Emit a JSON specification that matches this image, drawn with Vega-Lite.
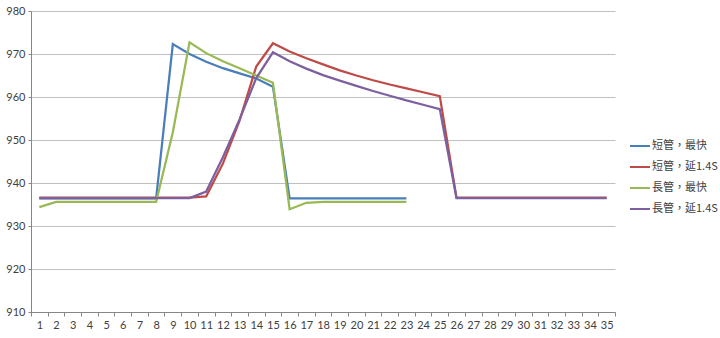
{
  "$schema": "https://vega.github.io/schema/vega-lite/v6.json",
  "autosize": {"type": "none"},
  "padding": {"left": 31, "top": 11, "right": 105, "bottom": 26},
  "width": 584,
  "height": 301,
  "background": "white",
  "config": {
    "view": {"stroke": null},
    "font": "Lato"
  },
  "data": {
    "values": [
      {"t":1,"s":"短管，最快","v":936.4},{"t":2,"s":"短管，最快","v":936.4},{"t":3,"s":"短管，最快","v":936.4},{"t":4,"s":"短管，最快","v":936.4},{"t":5,"s":"短管，最快","v":936.4},{"t":6,"s":"短管，最快","v":936.4},{"t":7,"s":"短管，最快","v":936.4},{"t":8,"s":"短管，最快","v":936.4},{"t":9,"s":"短管，最快","v":972.3},{"t":10,"s":"短管，最快","v":970.0},{"t":11,"s":"短管，最快","v":968.2},{"t":12,"s":"短管，最快","v":966.7},{"t":13,"s":"短管，最快","v":965.5},{"t":14,"s":"短管，最快","v":964.3},{"t":15,"s":"短管，最快","v":962.4},{"t":16,"s":"短管，最快","v":936.4},{"t":17,"s":"短管，最快","v":936.4},{"t":18,"s":"短管，最快","v":936.4},{"t":19,"s":"短管，最快","v":936.4},{"t":20,"s":"短管，最快","v":936.4},{"t":21,"s":"短管，最快","v":936.4},{"t":22,"s":"短管，最快","v":936.4},{"t":23,"s":"短管，最快","v":936.4},

      {"t":1,"s":"短管，延1.4S","v":936.6},{"t":2,"s":"短管，延1.4S","v":936.6},{"t":3,"s":"短管，延1.4S","v":936.6},{"t":4,"s":"短管，延1.4S","v":936.6},{"t":5,"s":"短管，延1.4S","v":936.6},{"t":6,"s":"短管，延1.4S","v":936.6},{"t":7,"s":"短管，延1.4S","v":936.6},{"t":8,"s":"短管，延1.4S","v":936.6},{"t":9,"s":"短管，延1.4S","v":936.6},{"t":10,"s":"短管，延1.4S","v":936.6},{"t":11,"s":"短管，延1.4S","v":936.9},{"t":12,"s":"短管，延1.4S","v":944.5},{"t":13,"s":"短管，延1.4S","v":954.5},{"t":14,"s":"短管，延1.4S","v":967.1},{"t":15,"s":"短管，延1.4S","v":972.5},{"t":16,"s":"短管，延1.4S","v":970.6},{"t":17,"s":"短管，延1.4S","v":969.0},{"t":18,"s":"短管，延1.4S","v":967.6},{"t":19,"s":"短管，延1.4S","v":966.2},{"t":20,"s":"短管，延1.4S","v":965.0},{"t":21,"s":"短管，延1.4S","v":963.9},{"t":22,"s":"短管，延1.4S","v":962.9},{"t":23,"s":"短管，延1.4S","v":962.0},{"t":24,"s":"短管，延1.4S","v":961.1},{"t":25,"s":"短管，延1.4S","v":960.2},{"t":26,"s":"短管，延1.4S","v":936.6},{"t":27,"s":"短管，延1.4S","v":936.6},{"t":28,"s":"短管，延1.4S","v":936.6},{"t":29,"s":"短管，延1.4S","v":936.6},{"t":30,"s":"短管，延1.4S","v":936.6},{"t":31,"s":"短管，延1.4S","v":936.6},{"t":32,"s":"短管，延1.4S","v":936.6},{"t":33,"s":"短管，延1.4S","v":936.6},{"t":34,"s":"短管，延1.4S","v":936.6},{"t":35,"s":"短管，延1.4S","v":936.6},

      {"t":1,"s":"長管，最快","v":934.4},{"t":2,"s":"長管，最快","v":935.6},{"t":3,"s":"長管，最快","v":935.6},{"t":4,"s":"長管，最快","v":935.6},{"t":5,"s":"長管，最快","v":935.6},{"t":6,"s":"長管，最快","v":935.6},{"t":7,"s":"長管，最快","v":935.6},{"t":8,"s":"長管，最快","v":935.6},{"t":9,"s":"長管，最快","v":951.8},{"t":10,"s":"長管，最快","v":972.7},{"t":11,"s":"長管，最快","v":970.2},{"t":12,"s":"長管，最快","v":968.3},{"t":13,"s":"長管，最快","v":966.7},{"t":14,"s":"長管，最快","v":965.0},{"t":15,"s":"長管，最快","v":963.3},{"t":16,"s":"長管，最快","v":933.9},{"t":17,"s":"長管，最快","v":935.4},{"t":18,"s":"長管，最快","v":935.6},{"t":19,"s":"長管，最快","v":935.6},{"t":20,"s":"長管，最快","v":935.6},{"t":21,"s":"長管，最快","v":935.6},{"t":22,"s":"長管，最快","v":935.6},{"t":23,"s":"長管，最快","v":935.6},

      {"t":1,"s":"長管，延1.4S","v":936.5},{"t":2,"s":"長管，延1.4S","v":936.5},{"t":3,"s":"長管，延1.4S","v":936.5},{"t":4,"s":"長管，延1.4S","v":936.5},{"t":5,"s":"長管，延1.4S","v":936.5},{"t":6,"s":"長管，延1.4S","v":936.5},{"t":7,"s":"長管，延1.4S","v":936.5},{"t":8,"s":"長管，延1.4S","v":936.5},{"t":9,"s":"長管，延1.4S","v":936.5},{"t":10,"s":"長管，延1.4S","v":936.5},{"t":11,"s":"長管，延1.4S","v":938.0},{"t":12,"s":"長管，延1.4S","v":946.0},{"t":13,"s":"長管，延1.4S","v":954.8},{"t":14,"s":"長管，延1.4S","v":964.4},{"t":15,"s":"長管，延1.4S","v":970.4},{"t":16,"s":"長管，延1.4S","v":968.3},{"t":17,"s":"長管，延1.4S","v":966.6},{"t":18,"s":"長管，延1.4S","v":965.1},{"t":19,"s":"長管，延1.4S","v":963.8},{"t":20,"s":"長管，延1.4S","v":962.6},{"t":21,"s":"長管，延1.4S","v":961.4},{"t":22,"s":"長管，延1.4S","v":960.3},{"t":23,"s":"長管，延1.4S","v":959.2},{"t":24,"s":"長管，延1.4S","v":958.2},{"t":25,"s":"長管，延1.4S","v":957.2},{"t":26,"s":"長管，延1.4S","v":936.5},{"t":27,"s":"長管，延1.4S","v":936.5},{"t":28,"s":"長管，延1.4S","v":936.5},{"t":29,"s":"長管，延1.4S","v":936.5},{"t":30,"s":"長管，延1.4S","v":936.5},{"t":31,"s":"長管，延1.4S","v":936.5},{"t":32,"s":"長管，延1.4S","v":936.5},{"t":33,"s":"長管，延1.4S","v":936.5},{"t":34,"s":"長管，延1.4S","v":936.5},{"t":35,"s":"長管，延1.4S","v":936.5}
    ]
  },
  "mark": {"type": "line", "strokeWidth": 2.25, "interpolate": "linear"},
  "encoding": {
    "x": {
      "field": "t", "type": "ordinal", "bandPosition": 0.5,
      "scale": {"type": "band", "paddingInner": 0, "paddingOuter": 0},
      "axis": {
        "title": null, "labelAngle": 0, "tickBand": "extent", "grid": false,
        "domainColor": "#868686", "tickColor": "#868686", "tickSize": 4,
        "labelColor": "#404040", "labelFontSize": 11, "labelPadding": 3,
        "labelFont": "Lato"
      }
    },
    "y": {
      "field": "v", "type": "quantitative",
      "scale": {"domain": [910, 980], "nice": false, "zero": false},
      "axis": {
        "title": null, "values": [910,920,930,940,950,960,970,980],
        "gridColor": "#C0C0C0", "domainColor": "#868686", "tickColor": "#868686",
        "tickSize": 3, "labelColor": "#404040", "labelFontSize": 11, "labelPadding": 3,
        "labelFont": "Lato"
      }
    },
    "color": {
      "field": "s", "type": "nominal",
      "scale": {
        "domain": ["短管，最快", "短管，延1.4S", "長管，最快", "長管，延1.4S"],
        "range": ["#4A7EBB", "#BE4B48", "#98B954", "#7D60A0"]
      },
      "legend": {
        "title": null, "orient": "none", "legendX": 598, "legendY": 124,
        "symbolType": "stroke", "symbolSize": 400, "symbolStrokeWidth": 2,
        "labelFont": "Noto Sans CJK TC", "labelFontSize": 11, "labelColor": "#404040",
        "labelOffset": 1, "rowPadding": 5
      }
    }
  }
}
